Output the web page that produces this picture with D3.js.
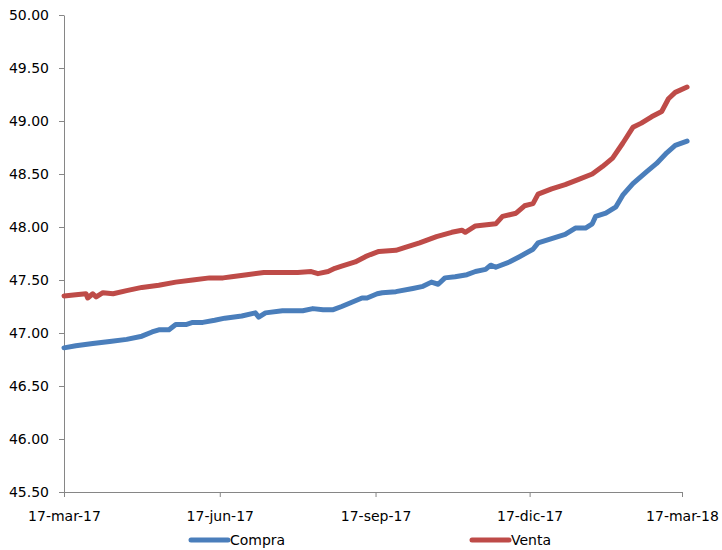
<!DOCTYPE html>
<html>
<head>
<meta charset="utf-8">
<script src="https://cdn.jsdelivr.net/npm/d3@7"></script>
<style>
  html, body { margin: 0; padding: 0; background: #fff; }
  svg { display: block; }
  text { font-family: "DejaVu Sans", Verdana, sans-serif; fill: #000; }
</style>
</head>
<body>
<svg id="chart" width="722" height="550"></svg>
<script>
const ventaDates = ["2017-03-17","2017-03-24","2017-03-30","2017-03-31","2017-04-03","2017-04-05","2017-04-09","2017-04-15","2017-04-23","2017-05-02","2017-05-12","2017-05-22","2017-06-01","2017-06-11","2017-06-19","2017-06-24","2017-07-03","2017-07-13","2017-07-23","2017-08-02","2017-08-10","2017-08-14","2017-08-20","2017-08-24","2017-08-28","2017-09-05","2017-09-11","2017-09-14","2017-09-19","2017-09-29","2017-10-05","2017-10-13","2017-10-23","2017-11-01","2017-11-07","2017-11-09","2017-11-15","2017-11-27","2017-12-01","2017-12-09","2017-12-14","2017-12-19","2017-12-22","2017-12-30","2018-01-07","2018-01-15","2018-01-23","2018-01-29","2018-02-04","2018-02-10","2018-02-16","2018-02-21","2018-02-27","2018-03-05","2018-03-09","2018-03-13","2018-03-20"];
const ventaValues = [47.35,47.36,47.37,47.33,47.37,47.34,47.38,47.37,47.40,47.43,47.45,47.48,47.50,47.52,47.52,47.53,47.55,47.57,47.57,47.57,47.58,47.56,47.58,47.61,47.63,47.67,47.72,47.74,47.77,47.78,47.81,47.85,47.91,47.95,47.97,47.95,48.01,48.03,48.10,48.13,48.20,48.22,48.31,48.36,48.40,48.45,48.50,48.57,48.65,48.79,48.94,48.98,49.04,49.09,49.21,49.27,49.32];

const compraDates = ["2017-03-17","2017-03-24","2017-04-03","2017-04-13","2017-04-23","2017-05-02","2017-05-08","2017-05-12","2017-05-18","2017-05-22","2017-05-28","2017-06-01","2017-06-07","2017-06-14","2017-06-20","2017-06-30","2017-07-08","2017-07-10","2017-07-14","2017-07-24","2017-08-05","2017-08-11","2017-08-17","2017-08-23","2017-08-28","2017-09-03","2017-09-09","2017-09-12","2017-09-18","2017-09-21","2017-09-29","2017-10-09","2017-10-15","2017-10-20","2017-10-24","2017-10-28","2017-11-03","2017-11-10","2017-11-15","2017-11-21","2017-11-24","2017-11-27","2017-12-05","2017-12-11","2017-12-19","2017-12-22","2017-12-30","2018-01-07","2018-01-13","2018-01-19","2018-01-23","2018-01-25","2018-01-31","2018-02-06","2018-02-10","2018-02-16","2018-02-24","2018-03-02","2018-03-08","2018-03-13","2018-03-20"];
const compraValues = [46.86,46.88,46.90,46.92,46.94,46.97,47.01,47.03,47.03,47.08,47.08,47.10,47.10,47.12,47.14,47.16,47.19,47.15,47.19,47.21,47.21,47.23,47.22,47.22,47.25,47.29,47.33,47.33,47.37,47.38,47.39,47.42,47.44,47.48,47.46,47.52,47.53,47.55,47.58,47.60,47.64,47.62,47.67,47.72,47.79,47.85,47.89,47.93,47.99,47.99,48.03,48.10,48.13,48.19,48.30,48.41,48.52,48.60,48.70,48.77,48.81];

const xTickDates = ["2017-03-17","2017-06-17","2017-09-17","2017-12-17","2018-03-17"];
const xTickLabels = ["17-mar-17","17-jun-17","17-sep-17","17-dic-17","17-mar-18"];
const yTicks = [45.5,46,46.5,47,47.5,48,48.5,49,49.5,50];
const seriesNames = ["Compra","Venta"];
const seriesColors = ["#4A7EBB","#BE4B48"];

const parse = d3.utcParse("%Y-%m-%d");
const svg = d3.select("#chart");
const mLeft = 64, mRight = 682, mTop = 15, mBottom = 492;

const x = d3.scaleUtc().domain([parse(xTickDates[0]), parse(xTickDates[4])]).range([mLeft, mRight]);
const y = d3.scaleLinear().domain([45.5, 50]).range([mBottom, mTop]);

const axisColor = "#868686";

// Y axis
const yAxis = svg.append("g").attr("transform", `translate(${mLeft},0)`)
  .call(d3.axisLeft(y).tickValues(yTicks).tickFormat(d3.format(".2f")).tickSizeInner(5).tickSizeOuter(0).tickPadding(10));
yAxis.select(".domain").attr("stroke", axisColor);
yAxis.selectAll(".tick line").attr("stroke", axisColor);
yAxis.selectAll(".tick text").attr("font-size", 14).attr("font-family", "DejaVu Sans");

// X axis
const xAxis = svg.append("g").attr("transform", `translate(0,${mBottom})`)
  .call(d3.axisBottom(x).tickValues(xTickDates.map(parse)).tickFormat((d, i) => xTickLabels[i]).tickSizeInner(5).tickSizeOuter(0).tickPadding(14));
xAxis.select(".domain").attr("stroke", axisColor);
xAxis.selectAll(".tick line").attr("stroke", axisColor);
xAxis.selectAll(".tick text").attr("font-size", 14).attr("font-family", "DejaVu Sans");

const line = d3.line().x(d => x(d[0])).y(d => y(d[1]));

const series = [
  compraDates.map((d, i) => [parse(d), compraValues[i]]),
  ventaDates.map((d, i) => [parse(d), ventaValues[i]])
];

series.forEach((s, i) => {
  svg.append("path").datum(s)
    .attr("fill", "none")
    .attr("stroke", seriesColors[i])
    .attr("stroke-width", 5)
    .attr("stroke-linejoin", "round")
    .attr("stroke-linecap", "round")
    .attr("d", line);
});

// Legend
const legendX = [191, 472];
seriesNames.forEach((n, i) => {
  const g = svg.append("g").attr("transform", `translate(${legendX[i]},540)`);
  g.append("line").attr("x1", 0).attr("x2", 37).attr("y1", 0).attr("y2", 0)
    .attr("stroke", seriesColors[i]).attr("stroke-width", 5).attr("stroke-linecap", "round");
  g.append("text").attr("x", 39).attr("y", 5).attr("font-size", 14).text(n);
});
</script>
</body>
</html>
